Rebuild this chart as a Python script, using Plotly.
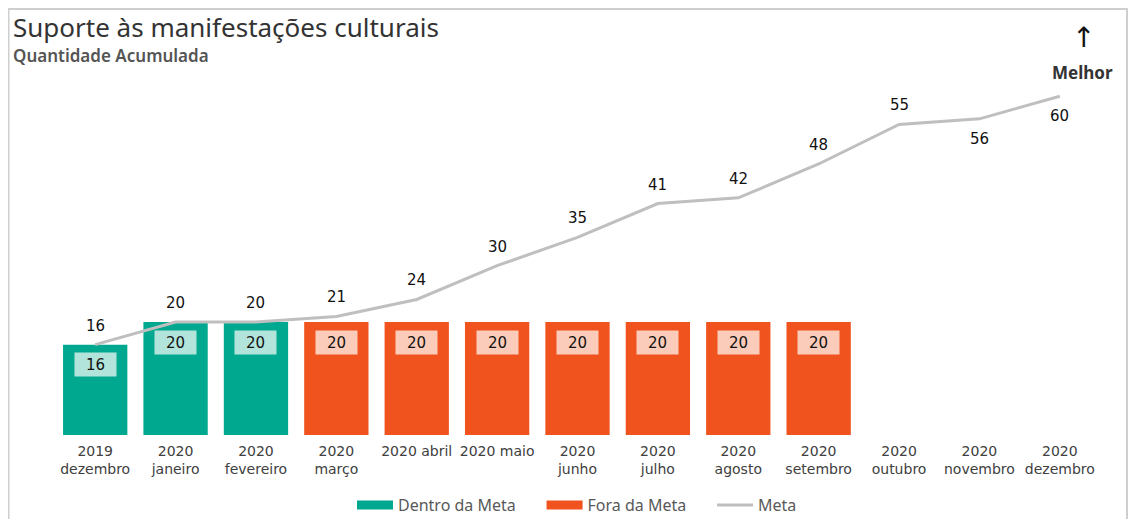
import plotly.graph_objects as go

categories = ["2019<br>dezembro", "2020<br>janeiro", "2020<br>fevereiro", "2020<br>março",
              "2020 abril", "2020 maio", "2020<br>junho", "2020<br>julho", "2020<br>agosto",
              "2020<br>setembro", "2020<br>outubro", "2020<br>novembro", "2020<br>dezembro"]
realizado = [16, 20, 20, 20, 20, 20, 20, 20, 20, 20, None, None, None]
dentro_meta = [True, True, True, False, False, False, False, False, False, False, None, None, None]
meta = [16, 20, 20, 21, 24, 30, 35, 41, 42, 48, 55, 56, 60]
meta_label_side = ["above"] * 11 + ["below", "below"]

TEAL = "#00A88F"
ORANGE = "#F1531E"
GRAY = "#BFBFBF"
TEAL_BOX = "#B3E4DB"
ORANGE_BOX = "#FBCCB9"

# page is offset by the 8px body margin; work in page pixel coordinates
OFF = 8
W, H = 1136 - 2 * OFF, 527 - 2 * OFF
PL, PR, PT, PB = 55, 1100, 68, 435  # plot area in page pixels


def px(x):
    return (x - PL) / (PR - PL)


def py(y):
    return (PB - y) / (PB - PT)


dentro_vals = [v if d is True else None for v, d in zip(realizado, dentro_meta)]
fora_vals = [v if d is False else None for v, d in zip(realizado, dentro_meta)]

fig = go.Figure()
fig.add_trace(go.Bar(x=categories, y=dentro_vals, marker_color=TEAL, showlegend=False,
                     marker_line_width=0, hoverinfo="skip"))
fig.add_trace(go.Bar(x=categories, y=fora_vals, marker_color=ORANGE, showlegend=False,
                     marker_line_width=0, hoverinfo="skip"))
fig.add_trace(go.Scatter(x=categories, y=meta, mode="lines", line=dict(color=GRAY, width=3),
                         showlegend=False, hoverinfo="skip"))

NB = "\u00a0" * 5
for name, color, w in [("Dentro da Meta" + NB, TEAL, 9), ("Fora da Meta" + NB, ORANGE, 9), ("Meta", GRAY, 3)]:
    fig.add_trace(go.Scatter(x=[None], y=[None], mode="lines", name=name,
                             line=dict(color=color, width=w)))

annotations = []
for c, v, d in zip(categories, realizado, dentro_meta):
    if v is None:
        continue
    annotations.append(dict(x=c, y=v, text=str(v), showarrow=False, yshift=-20,
                            width=37, height=19,
                            font=dict(family="DejaVu Sans", size=15, color="#111111"),
                            bgcolor=TEAL_BOX if d else ORANGE_BOX, borderpad=2))
for c, v, s in zip(categories, meta, meta_label_side):
    annotations.append(dict(x=c, y=v, text=str(v), showarrow=False,
                            yshift=19 if s == "above" else -20,
                            font=dict(family="DejaVu Sans", size=15, color="#111111")))

annotations += [
    dict(xref="paper", yref="paper", x=px(11), y=py(27), xanchor="left", yanchor="middle",
         text="Suporte às manifestações culturais", showarrow=False,
         font=dict(family="Noto Sans", size=26, color="#333333")),
    dict(xref="paper", yref="paper", x=px(11), y=py(55), xanchor="left", yanchor="middle",
         text="Quantidade Acumulada", showarrow=False,
         font=dict(family="Noto Sans", size=17, color="#555555", weight=600)),
    dict(xref="paper", yref="paper", x=px(1083), y=py(38), xanchor="center", yanchor="middle",
         text="↑", showarrow=False,
         font=dict(family="DejaVu Sans", size=28, color="#111111")),
    dict(xref="paper", yref="paper", x=px(1082), y=py(72), xanchor="center", yanchor="middle",
         text="<b>Melhor</b>", showarrow=False,
         font=dict(family="Noto Sans", size=17, color="#333333")),
]

shapes = [dict(type="rect", xref="paper", yref="paper",
               x0=px(OFF + 0.5), x1=px(1136 - OFF - 1),
               y0=py(600), y1=py(OFF + 1),
               line=dict(color="#CFCFCF", width=2), layer="below")]

fig.update_layout(
    width=W, height=H,
    margin=dict(l=PL - OFF, r=W - (PR - OFF), t=PT - OFF, b=H - (PB - OFF), autoexpand=False),
    paper_bgcolor="white", plot_bgcolor="white",
    barmode="overlay", bargap=0.2,
    xaxis=dict(showgrid=False, showline=False, zeroline=False, ticks="",
               tickfont=dict(family="DejaVu Sans", size=14, color="#404040"),
               ticklabelstandoff=6, fixedrange=True),
    yaxis=dict(range=[0, 65], visible=False, showgrid=False, zeroline=False, fixedrange=True),
    legend=dict(orientation="h", x=px(352), xanchor="left",
                y=py(505), yanchor="middle",
                font=dict(family="Noto Sans", size=16, color="#595959"),
                itemwidth=36, tracegroupgap=0),
    annotations=annotations, shapes=shapes,
)

fig.write_html("out.html")
